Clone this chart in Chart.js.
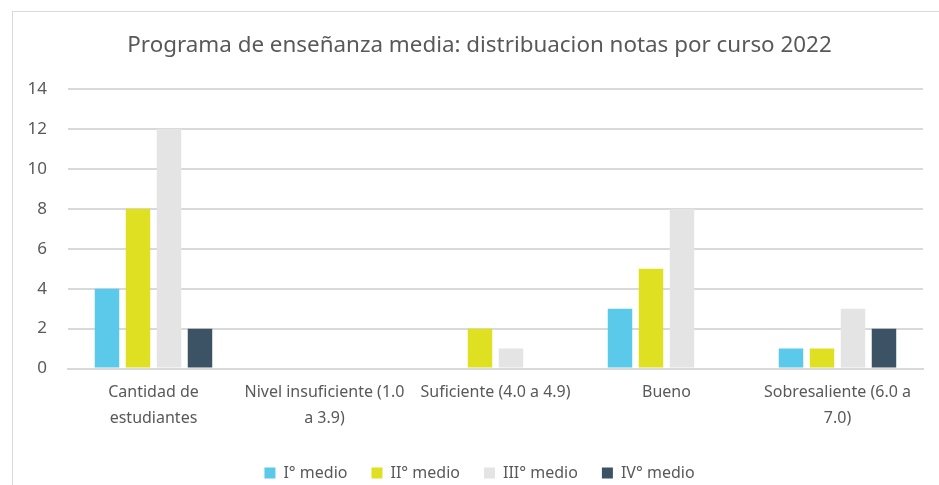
<!DOCTYPE html>
<html>
<head>
<meta charset="utf-8">
<script src="https://cdn.jsdelivr.net/npm/chart.js@4"></script>
<style>
  html, body { margin: 0; padding: 0; background: #fff; }
  #frame { position: absolute; left: 12px; top: 11px; width: 940px; height: 490px; border: 1px solid #d9d9d9; }
  #wrap { position: absolute; left: 0; top: 0; width: 939px; height: 485px; }
</style>
</head>
<body>
<div id="frame"></div>
<div id="wrap"><canvas id="chart" width="939" height="485"></canvas></div>
<script>
const categories = [
  ["Cantidad de", "estudiantes"],
  ["Nivel insuficiente (1.0", "a 3.9)"],
  "Suficiente (4.0 a 4.9)",
  "Bueno",
  ["Sobresaliente (6.0 a", "7.0)"]
];
const seriesNames = ["I° medio", "II° medio", "III° medio", "IV° medio"];
const primeroMedio = [4, 0, 0, 3, 1];
const segundoMedio = [8, 0, 2, 5, 1];
const terceroMedio = [12, 0, 1, 8, 3];
const cuartoMedio = [2, 0, 0, 0, 2];
const yTicks = [0, 2, 4, 6, 8, 10, 12, 14];

const colors = ["#5bc9e9", "#dee021", "#e4e4e4", "#3c5366"];
const textColor = "#595959";
const gridColor = "#d9d9d9";
const fontFamily = "'Noto Sans', Lato, sans-serif";

const seriesData = [primeroMedio, segundoMedio, terceroMedio, cuartoMedio];

// title and legend are centred on the frame, not on the whole canvas
const centerBoxes = {
  id: "centerBoxes",
  afterLayout(chart) {
    chart.titleBlock.left = 36;
    chart.legend.left = 36;
  }
};

const ctx = document.getElementById("chart").getContext("2d");
new Chart(ctx, {
  type: "bar",
  data: {
    labels: categories,
    datasets: seriesNames.map((name, i) => ({
      label: name,
      data: seriesData[i],
      backgroundColor: colors[i],
      borderWidth: 0,
      categoryPercentage: 0.725,
      barPercentage: 0.79
    }))
  },
  options: {
    responsive: false,
    animation: false,
    layout: { padding: { left: 0, right: 16, top: 32, bottom: -6 } },
    plugins: {
      title: {
        display: true,
        text: "Programa de enseñanza media: distribuacion notas por curso 2022",
        color: textColor,
        font: { family: fontFamily, size: 22.4, weight: "normal" },
        padding: { top: 0, bottom: 30 }
      },
      legend: {
        position: "bottom",
        title: { display: true, text: " ", font: { size: 6 }, padding: 0 },
        labels: {
          color: textColor,
          font: { family: fontFamily, size: 16 },
          boxWidth: 11,
          boxHeight: 11,
          padding: 24
        }
      },
      tooltip: { enabled: false }
    },
    scales: {
      x: {
        grid: { display: false },
        border: { color: gridColor, width: 2 },
        ticks: {
          color: textColor,
          font: { family: fontFamily, size: 16, lineHeight: 1.6 },
          maxRotation: 0,
          autoSkip: false,
          padding: 3
        }
      },
      y: {
        min: 0,
        max: 14,
        afterFit: s => { s.width = 68; },
        afterBuildTicks: s => { s.ticks = yTicks.map(v => ({ value: v })); },
        grid: { color: gridColor, lineWidth: 2, drawTicks: false },
        border: { display: false },
        ticks: {
          color: textColor,
          font: { family: fontFamily, size: 17 },
          padding: 21
        }
      }
    }
  },
  plugins: [centerBoxes]
});
</script>
</body>
</html>
